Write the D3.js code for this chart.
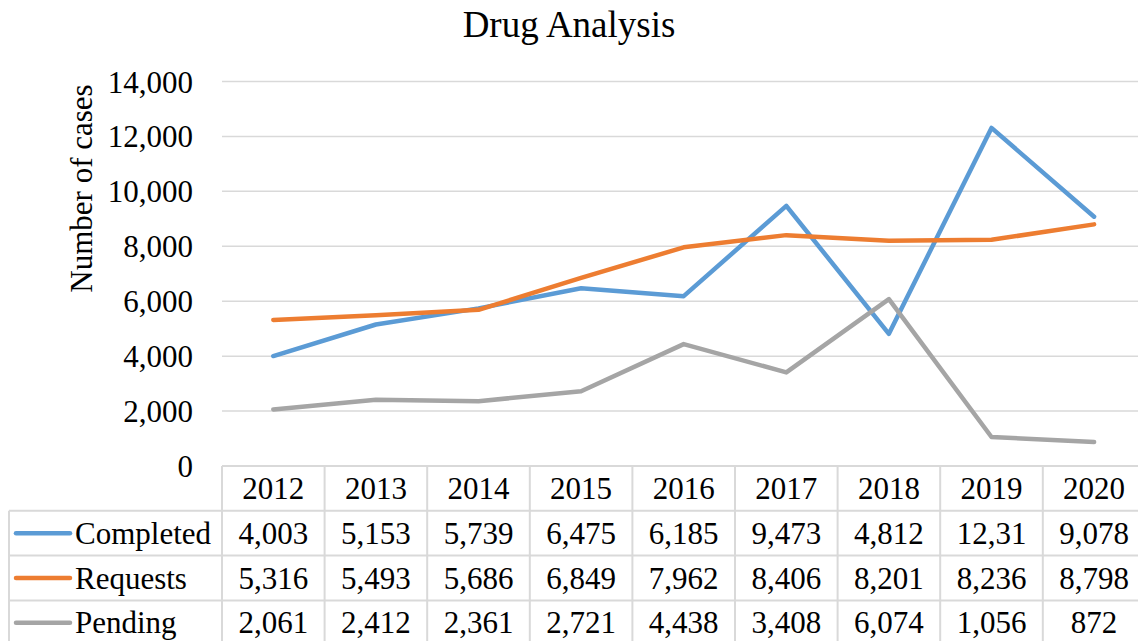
<!DOCTYPE html>
<html>
<head>
<meta charset="utf-8">
<script src="https://cdn.jsdelivr.net/npm/d3@7"></script>
<style>
  html, body { margin: 0; padding: 0; background: #fff; }
  svg { display: block; font-family: "Liberation Serif", "Times New Roman", serif; }
</style>
</head>
<body>
<svg id="chart" width="1138" height="641"></svg>
<script>
// Drug analysis: yearly case counts
const years = ["2012", "2013", "2014", "2015", "2016", "2017", "2018", "2019", "2020"];
const completed = [4003, 5153, 5739, 6475, 6185, 9473, 4812, 12310, 9078];
const requests  = [5316, 5493, 5686, 6849, 7962, 8406, 8201, 8236, 8798];
const pending   = [2061, 2412, 2361, 2721, 4438, 3408, 6074, 1056, 872];
const seriesNames = ["Completed", "Requests", "Pending"];
const seriesColors = ["#5b9bd5", "#ed7d31", "#a5a5a5"];
const yTicks = [0, 2000, 4000, 6000, 8000, 10000, 12000, 14000];

const series = seriesNames.map((name, i) => ({
  name,
  color: seriesColors[i],
  values: [completed, requests, pending][i]
}));

const svg = d3.select("#chart");
const gridColor = "#d9d9d9";
const fontSize = 31;

// plot geometry
const plotLeft = 222, colW = 102.6;
const plotTop = 81.5, plotBottom = 466;
const rowH = 44.8;
const tableLeft = 9;

const x = d3.scaleBand().domain(years).range([plotLeft, plotLeft + colW * years.length]);
const y = d3.scaleLinear().domain([0, 14000]).range([plotBottom, plotTop]);

// title
svg.append("text")
  .attr("x", 569).attr("y", 37)
  .attr("text-anchor", "middle")
  .attr("font-size", 37)
  .text("Drug Analysis");

// horizontal gridlines
svg.append("g").selectAll("line")
  .data(yTicks.filter(d => d > 0))
  .join("line")
  .attr("x1", plotLeft).attr("x2", x.range()[1])
  .attr("y1", d => y(d)).attr("y2", d => y(d))
  .attr("stroke", gridColor).attr("stroke-width", 1.5);

// y axis labels
const yAxis = d3.axisLeft(y).tickValues(yTicks).tickSize(0).tickPadding(0).tickFormat(d3.format(","));
const yg = svg.append("g").attr("transform", "translate(193,0)").call(yAxis);
yg.select(".domain").remove();
yg.selectAll("text")
  .attr("font-family", "Liberation Serif, Times New Roman, serif")
  .attr("font-size", fontSize)
  .attr("fill", "#000")
  .attr("dy", "0.34em");

// y axis title
svg.append("text")
  .attr("transform", "translate(92,188.5) rotate(-90)")
  .attr("text-anchor", "middle")
  .attr("font-size", fontSize)
  .text("Number of cases");

// series lines
const line = d3.line()
  .x((d, i) => x(years[i]) + x.bandwidth() / 2)
  .y(d => y(d));

svg.append("g").selectAll("path")
  .data(series)
  .join("path")
  .attr("d", s => line(s.values))
  .attr("fill", "none")
  .attr("stroke", s => s.color)
  .attr("stroke-width", 4.5)
  .attr("stroke-linecap", "round")
  .attr("stroke-linejoin", "round");

// data table
const table = svg.append("g");
const tableRight = x.range()[1];
const rowTop = i => plotBottom + rowH * i; // 0 = header row
const nRows = series.length + 1;

// horizontal rules
for (let i = 0; i <= nRows; i++) {
  table.append("line")
    .attr("x1", i <= 1 ? (i === 0 ? plotLeft : tableLeft) : tableLeft)
    .attr("x2", tableRight)
    .attr("y1", rowTop(i)).attr("y2", rowTop(i))
    .attr("stroke", gridColor).attr("stroke-width", 2);
}
// vertical rules
years.forEach((yr, j) => {
  table.append("line")
    .attr("x1", x(yr)).attr("x2", x(yr))
    .attr("y1", rowTop(0)).attr("y2", rowTop(nRows))
    .attr("stroke", gridColor).attr("stroke-width", 2);
});
table.append("line")
  .attr("x1", tableRight).attr("x2", tableRight)
  .attr("y1", rowTop(0)).attr("y2", rowTop(nRows))
  .attr("stroke", gridColor).attr("stroke-width", 2);
table.append("line")
  .attr("x1", tableLeft).attr("x2", tableLeft)
  .attr("y1", rowTop(1)).attr("y2", rowTop(nRows))
  .attr("stroke", gridColor).attr("stroke-width", 2);

// header row: years
table.selectAll("text.year")
  .data(years)
  .join("text")
  .attr("class", "year")
  .attr("x", d => x(d) + x.bandwidth() / 2)
  .attr("y", rowTop(0) + rowH / 2 + 10.5)
  .attr("text-anchor", "middle")
  .attr("font-size", fontSize)
  .text(d => d);

// the data table shows at most five characters per cell
const cellText = v => d3.format(",")(v).slice(0, 5);

series.forEach((s, i) => {
  const cy = rowTop(i + 1) + rowH / 2;
  // legend key
  table.append("line")
    .attr("x1", 16).attr("x2", 70)
    .attr("y1", cy).attr("y2", cy)
    .attr("stroke", s.color).attr("stroke-width", 4.5)
    .attr("stroke-linecap", "round");
  table.append("text")
    .attr("x", 75).attr("y", cy + 10.5)
    .attr("font-size", fontSize)
    .text(s.name);
  table.selectAll(null)
    .data(s.values)
    .join("text")
    .attr("x", (d, j) => x(years[j]) + x.bandwidth() / 2)
    .attr("y", cy + 10.5)
    .attr("text-anchor", "middle")
    .attr("font-size", fontSize)
    .text(d => cellText(d));
});
</script>
</body>
</html>
